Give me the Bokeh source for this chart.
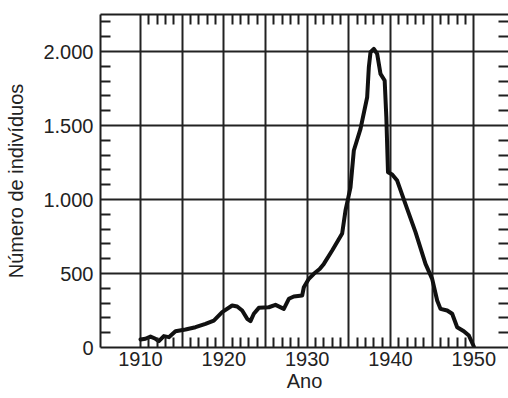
from bokeh.plotting import figure
from bokeh.models import FixedTicker, LinearAxis, Range1d
from bokeh.embed import file_html
from bokeh.resources import INLINE

# ---- data ----
years = [1910.0, 1910.6, 1911.2, 1911.8, 1912.2, 1912.8, 1913.4, 1914.2, 1915.4,
         1916.6, 1917.8, 1918.8, 1919.8, 1921.0, 1921.6, 1922.2, 1922.8, 1923.2,
         1923.6, 1924.2, 1925.4, 1926.2, 1927.2, 1927.8, 1928.4, 1929.4, 1929.6,
         1930.2, 1930.8, 1931.5, 1932.0, 1933.0, 1934.2, 1934.6, 1935.0, 1935.2,
         1935.6, 1936.4, 1937.2, 1937.4, 1937.6, 1938.0, 1938.4, 1938.8, 1939.3,
         1939.5, 1939.7, 1940.2, 1940.8, 1941.5, 1942.0, 1943.0, 1944.2, 1945.0,
         1945.6, 1946.0, 1946.8, 1947.4, 1948.0, 1948.8, 1949.4, 1950.0]
individuos = [54, 59, 74, 59, 43, 77, 70, 110, 122,
              137, 160, 182, 239, 284, 277, 250, 194, 178,
              228, 268, 272, 288, 261, 329, 345, 351, 407,
              464, 498, 530, 565, 655, 770, 926, 1030, 1083,
              1331, 1477, 1691, 1894, 1995, 2018, 1984, 1849, 1804,
              1556, 1184, 1169, 1128, 1016, 937, 780, 565, 464,
              318, 261, 250, 228, 137, 110, 81, 7]

x_labels_at = [1910, 1920, 1930, 1940, 1950]
x_grid_at = [1910, 1915, 1920, 1925, 1930, 1935, 1940, 1945, 1950]
x_minor_at = [yr for yr in range(1911, 1950) if yr % 5 != 0]
y_major_at = [0, 500, 1000, 1500, 2000]
y_tick_labels = ["0", "500", "1.000", "1.500", "2.000"]
y_grid_at = [500, 1000, 1500, 2000]
y_minor_at = [v for v in range(100, 2300, 100) if v % 500 != 0]

x_title = "Ano"
y_title = "Número de indivíduos"

INK = "#1e1e1e"
FONT = "Liberation Sans"

p = figure(width=508, height=398, output_backend="svg", toolbar_location=None,
           x_range=Range1d(1905.2, 1954.16), y_range=Range1d(0, 2250),
           min_border_left=100, min_border_right=0, min_border_top=14,
           min_border_bottom=51)
p.outline_line_color = None
p.background_fill_color = "white"
p.border_fill_color = "white"

# grid
p.xgrid.ticker = FixedTicker(ticks=x_grid_at)
p.ygrid.ticker = FixedTicker(ticks=y_grid_at)
p.grid.grid_line_color = "#222222"
p.grid.grid_line_width = 2

# bottom axis
xa = p.xaxis[0]
xa.ticker = FixedTicker(ticks=x_labels_at, minor_ticks=x_minor_at)
xa.major_tick_in = 0
xa.major_tick_out = 0
xa.minor_tick_in = 10
xa.minor_tick_out = 0
xa.minor_tick_line_width = 2
xa.minor_tick_line_color = INK
xa.axis_line_color = INK
xa.axis_line_width = 2
xa.major_label_text_font = FONT
xa.major_label_text_font_size = "20px"
xa.major_label_text_color = "#222222"
xa.major_label_standoff = 4
xa.axis_label = x_title
xa.axis_label_text_font = FONT
xa.axis_label_text_font_size = "20px"
xa.axis_label_text_font_style = "normal"
xa.axis_label_text_color = "#222222"
xa.axis_label_standoff = 1

# left axis
ya = p.yaxis[0]
ya.ticker = FixedTicker(ticks=y_major_at, minor_ticks=y_minor_at)
ya.major_label_overrides = {t: s for t, s in zip(y_major_at, y_tick_labels)}
ya.major_tick_in = 0
ya.major_tick_out = 0
ya.minor_tick_in = 10
ya.minor_tick_out = 0
ya.minor_tick_line_width = 2
ya.minor_tick_line_color = INK
ya.axis_line_color = INK
ya.axis_line_width = 2
ya.major_label_text_font = FONT
ya.major_label_text_font_size = "20px"
ya.major_label_text_color = "#222222"
ya.major_label_standoff = 7
ya.axis_label = y_title
ya.axis_label_text_font = FONT
ya.axis_label_text_font_size = "20px"
ya.axis_label_text_font_style = "normal"
ya.axis_label_text_color = "#222222"
ya.axis_label_standoff = 13

# top axis (minor ticks only)
top = LinearAxis(ticker=FixedTicker(ticks=[], minor_ticks=x_minor_at))
top.major_label_text_font_size = "0px"
top.major_label_standoff = 0
top.major_tick_in = 0
top.major_tick_out = 0
top.minor_tick_in = 10
top.minor_tick_out = 0
top.minor_tick_line_width = 2
top.minor_tick_line_color = INK
top.axis_line_color = INK
top.axis_line_width = 2
p.add_layout(top, "above")

# right axis (minor ticks only, its line lies outside the picture)
right = LinearAxis(ticker=FixedTicker(ticks=[], minor_ticks=y_minor_at))
right.major_label_text_font_size = "0px"
right.major_label_standoff = 0
right.major_tick_in = 0
right.major_tick_out = 0
right.minor_tick_in = 10
right.minor_tick_out = 0
right.minor_tick_line_width = 2
right.minor_tick_line_color = INK
right.axis_line_color = None
p.add_layout(right, "right")

# curve
p.line(years, individuos, line_width=4, line_color="#111111", line_join="round",
       line_cap="round")

open("out.html", "w").write(file_html(p, INLINE))
